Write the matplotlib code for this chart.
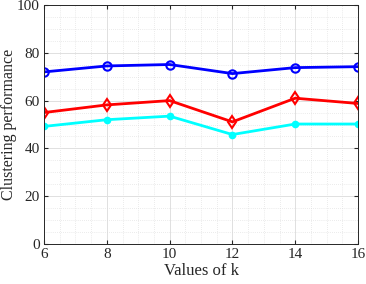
import matplotlib
matplotlib.use('Agg')
import matplotlib.pyplot as plt
from matplotlib.ticker import MultipleLocator

plt.rcParams['font.family'] = ['Liberation Serif', 'DejaVu Serif']

k = [6, 8, 10, 12, 14, 16]
blue_vals = [72.0, 74.5, 75.1, 71.3, 73.8, 74.2]
red_vals = [55.0, 58.2, 60.0, 51.1, 61.0, 58.8]
cyan_vals = [49.2, 52.0, 53.5, 45.8, 50.2, 50.2]

fig = plt.figure(figsize=(3.66, 2.84), dpi=100)
ax = fig.add_axes([44/366, 40/284, 314/366, 239/284])

ax.plot(k, blue_vals, color='#0000ff', lw=2, marker='o', ms=6, mfc='none', mew=1.5)
ax.plot(k, red_vals, color='#ff0000', lw=2, marker='d', ms=6, mfc='none', mew=1.5)
ax.plot(k, cyan_vals, color='#00ffff', lw=2, marker='o', ms=4, mfc='#00ffff', mew=1.5)

ax.set_xlim(6, 16)
ax.set_ylim(0, 100)
ax.set_xticks(k)
ax.set_yticks([0, 20, 40, 60, 80, 100])
ax.xaxis.set_minor_locator(MultipleLocator(0.5))
ax.yaxis.set_minor_locator(MultipleLocator(5))
ax.grid(which='major', color='#e0e0e0', lw=0.7)
ax.grid(which='minor', color='#d8d8d8', lw=0.5, ls=(0, (1, 2)))
ax.set_axisbelow(True)
ax.tick_params(which='both', direction='in', top=True, right=True, labelsize=11, colors='#262626', pad=3)
ax.tick_params(which='minor', length=0)
ax.tick_params(which='major', length=3)
for s in ax.spines.values():
    s.set_color('#262626')
    s.set_linewidth(0.7)

ax.set_xlabel('Values of k', fontsize=12, color='#262626', labelpad=1)
ax.set_ylabel('Clustering performance', fontsize=11.5, color='#262626', va='center')
ax.yaxis.set_label_coords(-0.112, 0.50)

fig.savefig('out.png', dpi=100)
